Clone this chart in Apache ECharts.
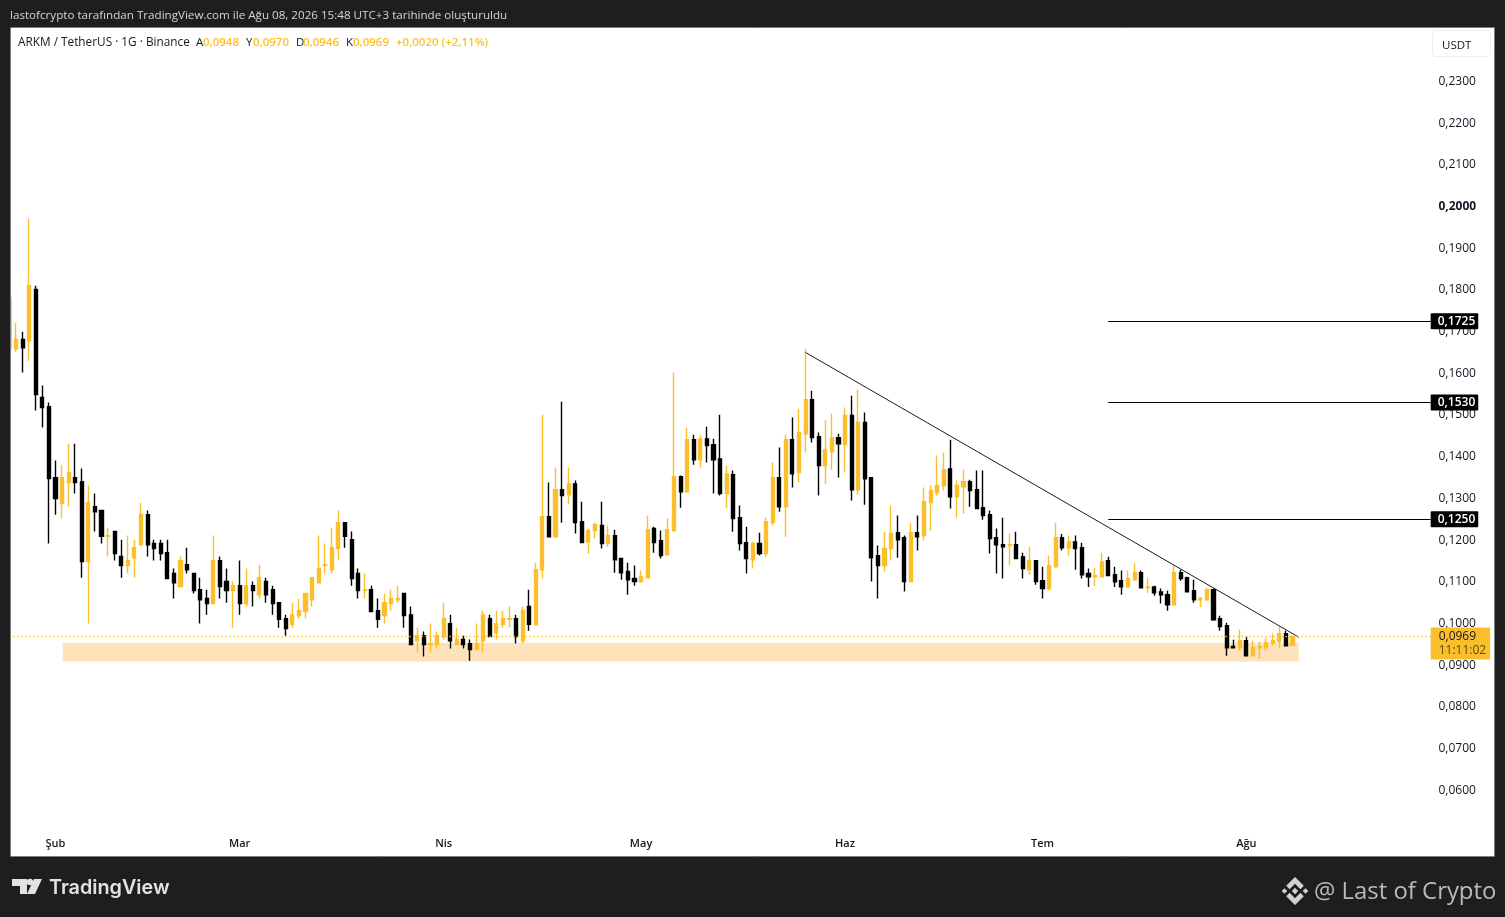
<!DOCTYPE html>
<html><head><meta charset="utf-8">
<style>html,body{margin:0;padding:0;background:#1e1e1e}#c{width:1505px;height:917px}</style>
<script src="https://cdn.jsdelivr.net/npm/echarts@6/dist/echarts.min.js"></script>
</head><body><div id="c"></div>
<script>
// Daily candles, rows are [open, close, low, high]
const candlesJan = [[.1782,.1659,.1659,.1782],[.1659,.1681,.1652,.1722],[.1681,.1661,.1602,.1700],[.1678,.1810,.1630,.1971],[.1801,.1549,.1511,.1810],[.1542,.1518,.1470,.1571],[.1520,.1348,.1192,.1530]];
const candlesFeb = [[.1350,.1300,.1261,.1391],[.1288,.1350,.1252,.1381],[.1338,.1362,.1280,.1431],[.1350,.1338,.1312,.1431],[.1340,.1149,.1110,.1372],[.1149,.1290,.1000,.1331],[.1280,.1268,.1221,.1312],[.1271,.1209,.1192,.1271],[.1209,.1211,.1161,.1230],[.1221,.1168,.1151,.1221],[.1161,.1139,.1110,.1201],[.1139,.1151,.1120,.1211],[.1158,.1182,.1110,.1201],[.1189,.1261,.1189,.1290],[.1261,.1189,.1161,.1271],[.1192,.1180,.1151,.1201],[.1192,.1168,.1151,.1201],[.1170,.1108,.1108,.1201],[.1120,.1098,.1060,.1132],[.1089,.1151,.1089,.1161],[.1141,.1129,.1120,.1182],[.1120,.1079,.1072,.1120],[.1081,.1057,.1000,.1110],[.1060,.1048,.1021,.1081],[.1048,.1151,.1048,.1211],[.1151,.1089,.1060,.1161],[.1101,.1079,.1050,.1132],[.1079,.1091,.0990,.1101]];
const candlesMar = [[.1091,.1048,.1021,.1151],[.1048,.1091,.1041,.1132],[.1091,.1079,.1041,.1101],[.1069,.1110,.1060,.1141],[.1101,.1069,.1050,.1110],[.1081,.1048,.1021,.1091],[.1050,.1010,.0990,.1050],[.1012,.0988,.0971,.1021],[.0998,.1021,.0990,.1050],[.1019,.1031,.1012,.1060],[.1029,.1072,.1012,.1072],[.1057,.1110,.1041,.1110],[.1098,.1132,.1098,.1211],[.1140,.1141,.1120,.1192],[.1129,.1182,.1120,.1230],[.1180,.1242,.1151,.1271],[.1242,.1209,.1182,.1242],[.1201,.1108,.1091,.1221],[.1120,.1079,.1060,.1132],[.1079,.1081,.1060,.1120],[.1081,.1029,.1029,.1091],[.1031,.1010,.0990,.1060],[.1019,.1050,.1000,.1072],[.1048,.1060,.1031,.1081],[.1057,.1060,.1050,.1091],[.1072,.1019,.0990,.1072],[.1021,.0950,.0950,.1041],[.0959,.0971,.0930,.0990],[.0971,.0950,.0921,.0981],[.0950,.0952,.0930,.1000],[.0950,.0971,.0940,.0981]];
const candlesApr = [[.0969,.1012,.0962,.1050],[.1000,.0959,.0940,.1021],[.0950,.0962,.0950,.0990],[.0962,.0950,.0940,.0971],[.0952,.0938,.0911,.0962],[.0938,.0952,.0938,.1000],[.0959,.1021,.0930,.1031],[.1012,.0969,.0969,.1021],[.0978,.1000,.0962,.1031],[.0998,.1012,.0990,.1031],[.1010,.1012,.0990,.1041],[.1012,.0969,.0952,.1021],[.0959,.1031,.0952,.1041],[.1041,.0998,.0983,.1081],[.0997,.1129,.0997,.1146],[.1129,.1256,.1108,.1501],[.1256,.1208,.1208,.1338],[.1208,.1321,.1206,.1374],[.1321,.1307,.1242,.1532],[.1309,.1335,.1287,.1374],[.1335,.1242,.1216,.1343],[.1244,.1194,.1194,.1292],[.1196,.1223,.1168,.1228],[.1223,.1237,.1204,.1242],[.1235,.1192,.1180,.1292],[.1192,.1211,.1184,.1235],[.1211,.1153,.1122,.1225],[.1156,.1122,.1105,.1156],[.1125,.1105,.1069,.1146],[.1108,.1101,.1091,.1139]];
const candlesMay = [[.1101,.1113,.1098,.1127],[.1110,.1225,.1110,.1259],[.1228,.1194,.1170,.1232],[.1199,.1163,.1156,.1223],[.1165,.1225,.1165,.1252],[.1223,.1352,.1220,.1602],[.1352,.1316,.1278,.1355],[.1316,.1441,.1314,.1470],[.1441,.1393,.1381,.1453],[.1393,.1443,.1374,.1453],[.1443,.1427,.1386,.1472],[.1429,.1393,.1312,.1443],[.1395,.1312,.1307,.1501],[.1312,.1359,.1278,.1379],[.1357,.1252,.1220,.1367],[.1254,.1192,.1175,.1283],[.1194,.1156,.1120,.1232],[.1153,.1192,.1132,.1196],[.1192,.1168,.1163,.1218],[.1168,.1244,.1160,.1254],[.1242,.1350,.1235,.1386],[.1350,.1280,.1268,.1422],[.1280,.1441,.1208,.1453],[.1441,.1359,.1326,.1494],[.1362,.1458,.1338,.1515],[.1455,.1537,.1410,.1659],[.1537,.1446,.1434,.1558],[.1448,.1379,.1307,.1458],[.1379,.1417,.1335,.1489],[.1412,.1446,.1369,.1503],[.1446,.1431,.1350,.1455]];
const candlesJun = [[.1429,.1499,.1362,.1518],[.1499,.1321,.1295,.1546],[.1321,.1482,.1309,.1561],[.1482,.1347,.1285,.1506],[.1350,.1158,.1101,.1350],[.1163,.1139,.1060,.1187],[.1139,.1180,.1125,.1220],[.1180,.1216,.1151,.1283],[.1218,.1201,.1158,.1259],[.1206,.1101,.1077,.1211],[.1101,.1218,.1101,.1242],[.1218,.1208,.1175,.1259],[.1211,.1292,.1199,.1326],[.1290,.1319,.1223,.1331],[.1314,.1331,.1307,.1403],[.1331,.1369,.1319,.1410],[.1371,.1304,.1276,.1441],[.1304,.1331,.1254,.1343],[.1328,.1340,.1264,.1369],[.1340,.1319,.1280,.1345],[.1321,.1276,.1276,.1367],[.1278,.1259,.1249,.1367],[.1261,.1204,.1168,.1271],[.1206,.1189,.1120,.1228],[.1189,.1184,.1108,.1254],[.1187,.1189,.1139,.1216],[.1189,.1156,.1156,.1220],[.1160,.1132,.1108,.1170],[.1129,.1151,.1117,.1184],[.1151,.1101,.1093,.1151]];
const candlesJul = [[.1103,.1084,.1060,.1136],[.1084,.1139,.1079,.1163],[.1136,.1206,.1136,.1242],[.1206,.1182,.1175,.1215],[.1182,.1196,.1163,.1211],[.1196,.1180,.1129,.1211],[.1182,.1117,.1108,.1194],[.1120,.1112,.1088,.1132],[.1112,.1115,.1091,.1134],[.1112,.1148,.1112,.1170],[.1151,.1115,.1115,.1160],[.1117,.1100,.1088,.1136],[.1103,.1088,.1069,.1127],[.1088,.1108,.1086,.1127],[.1105,.1122,.1103,.1146],[.1122,.1086,.1086,.1127],[.1086,.1088,.1074,.1110],[.1088,.1074,.1067,.1091],[.1076,.1069,.1048,.1084],[.1069,.1045,.1031,.1079],[.1045,.1122,.1043,.1139],[.1122,.1108,.1103,.1129],[.1110,.1076,.1076,.1112],[.1079,.1057,.1050,.1105],[.1057,.1060,.1040,.1064],[.1057,.1081,.1057,.1086],[.1081,.1009,.1007,.1084],[.1012,.0993,.0983,.1019],[.0995,.0942,.0923,.1002],[.0945,.0942,.0940,.0961],[.0942,.0959,.0935,.0985]];
const candlesAug = [[.0959,.0923,.0923,.0969],[.0923,.0942,.0923,.0959],[.0942,.0945,.0916,.0957],[.0942,.0954,.0933,.0966],[.0952,.0959,.0947,.0976],[.0957,.0976,.0940,.0993],[.0976,.0947,.0945,.0983],[.0948,.0969,.0946,.0970]];

const firstDay = '2026-01-25';
const totalDays = 217;           // candles plus the empty space to the right
const monthTicks = {'2026-02-01':'Şub','2026-03-01':'Mar','2026-04-01':'Nis','2026-05-01':'May','2026-06-01':'Haz','2026-07-01':'Tem','2026-08-01':'Ağu'};
const priceLevels = [0.1725, 0.1530, 0.1250];
const levelStart = '2026-07-11';
const lastPrice = 0.0969;
const countdown = '11:11:02';
const trendFrom = ['2026-05-26', 0.1650];
const trendTo = ['2026-08-09', 0.0967];
const zoneDays = [8.6, 196.45];  // days since firstDay
const zonePrices = [0.0909, 0.0954];
const headerText = 'lastofcrypto tarafından TradingView.com ile Ağu 08, 2026 15:48 UTC+3 tarihinde oluşturuldu';
const symbolText = 'ARKM / TetherUS · 1G · Binance';
const ohlcLetters = ['A','Y','D','K'];
const ohlcValues = ['0,0948','0,0970','0,0946','0,0969'];
const changeText = '+0,0020 (+2,11%)';

const UP = '#fcbf2c', DOWN = '#000000', FONT = '"Open Sans","Noto Sans",sans-serif';
const candles = [].concat(candlesJan,candlesFeb,candlesMar,candlesApr,candlesMay,candlesJun,candlesJul,candlesAug);
const categories = [];
for (let i = 0; i < totalDays; i++) {
  const d = new Date(Date.parse(firstDay + 'T00:00:00Z') + i*864e5);
  categories.push(d.toISOString().slice(0,10));
}
const lastCat = categories[totalDays-1];
const fmt = v => v.toFixed(4).replace('.',',');

const band = 6.58, gridLeft = 6.1, pxPerUnit = 4170.6;
const gridTop = 39.7, gridHeight = 0.19*pxPerUnit;

const chart = echarts.init(document.getElementById('c'), null, {renderer:'canvas'});

const txt = (x,y,text,style,z) => ({type:'text',x,y,z:z||50,silent:true,style:Object.assign({text,font:'11.5px '+FONT,textVerticalAlign:'middle',verticalAlign:'middle'},style)});
const poly = (points,fill,z) => ({type:'polygon',z:z||50,silent:true,shape:{points},style:{fill}});
const diamond = (cx,cy,r,fill) => poly([[cx,cy-r],[cx+r,cy],[cx,cy+r],[cx-r,cy]],fill);

const ohlcX = [196,246,296,346];
const graphics = [
  {type:'rect',z:-5,silent:true,shape:{x:11,y:28,width:1483,height:828},style:{fill:'#ffffff'}},
  {type:'rect',z:40,silent:true,shape:{x:0,y:0,width:10,height:917},style:{fill:'#1e1e1e'}},
  {type:'rect',z:41,silent:true,shape:{x:10.5,y:27.5,width:1484,height:829},style:{fill:'none',stroke:'#7d7d7d',lineWidth:1}},
  txt(10,16,headerText,{fill:'#d6d6d6',font:'11.63px '+FONT}),
  txt(18,43,symbolText,{fill:'#131722',font:'11.8px '+FONT}),
  txt(396,43,changeText,{fill:UP,font:'600 11.5px '+FONT}),
  {type:'rect',z:45,silent:true,shape:{x:1432.5,y:30.5,width:58,height:26,r:4},style:{fill:'#fff',stroke:'#dcdcdc',lineWidth:1,lineDash:[1,1]}},
  txt(1442,46,'USDT',{fill:'#131722',font:'11.5px '+FONT}),
  poly([[12,879],[27,879],[27,894],[20,894],[20,886],[12,886]],'#e2e2e2'),
  {type:'circle',z:50,silent:true,shape:{cx:30,cy:882,r:3.2},style:{fill:'#e2e2e2'}},
  poly([[34,879],[42,879],[35,894],[27,894]],'#e2e2e2'),
  txt(49,888,'TradingView',{fill:'#e2e2e2',font:'600 19.8px Inter,'+FONT}),
  poly([[1295,877],[1303.8,885.8],[1300.4,889.2],[1295,883.8],[1289.6,889.2],[1286.2,885.8]],'#d2d2d2'),
  poly([[1295,905],[1303.8,896.2],[1300.4,892.8],[1295,898.2],[1289.6,892.8],[1286.2,896.2]],'#d2d2d2'),
  diamond(1295,891,3.2,'#d2d2d2'), diamond(1284.5,891,2.8,'#d2d2d2'), diamond(1305.5,891,2.8,'#d2d2d2'),
  txt(1314,892,'@ Last of Crypto',{fill:'#b9b9b9',font:'23.9px '+FONT})
];
ohlcLetters.forEach((l,i)=>{
  graphics.push(txt(ohlcX[i],43,l,{fill:'#131722',font:'11.5px '+FONT}));
  graphics.push(txt(ohlcX[i]+7,43,ohlcValues[i],{fill:UP,font:'600 11.5px '+FONT}));
});

chart.setOption({
  animation:false,
  backgroundColor:'#1e1e1e',
  graphic:{elements:graphics},
  grid:{left:gridLeft,top:gridTop,width:totalDays*band,height:gridHeight,containLabel:false},
  xAxis:[
    {type:'category',data:categories,boundaryGap:true,
      axisLine:{show:false},axisTick:{show:false},splitLine:{show:false},
      axisLabel:{interval:(i,name)=>monthTicks[name]!==undefined,formatter:v=>monthTicks[v]||'',color:'#131722',fontFamily:FONT,fontSize:11,fontWeight:600,margin:6}},
    {type:'value',min:0,max:totalDays,show:false,splitLine:{show:false}}
  ],
  yAxis:{type:'value',position:'right',min:0.05,max:0.24,interval:0.01,scale:false,
    axisLine:{show:false},axisTick:{show:false},splitLine:{show:false},
    axisLabel:{showMinLabel:false,showMaxLabel:false,margin:4.5,align:'left',color:'#131722',fontFamily:FONT,fontSize:12,
      formatter:v=>{const s=fmt(v);return Math.abs(v-0.2)<1e-6?'{b|'+s+'}':s;},
      rich:{b:{fontWeight:'bold',fontSize:12,color:'#131722',fontFamily:FONT}}}},
  series:[
    {type:'line',z:1,xAxisIndex:1,data:[],silent:true,
      markArea:{silent:true,animation:false,itemStyle:{color:'#fde2bc'},data:[[{coord:[zoneDays[0],zonePrices[1]]},{coord:[zoneDays[1],zonePrices[0]]}]]}},
    {type:'candlestick',z:2,xAxisIndex:0,data:candles,barWidth:3.6,clip:true,silent:true,
      itemStyle:{color:UP,color0:DOWN,borderColor:UP,borderColor0:DOWN,borderWidth:1.4}},
    {type:'line',z:5,xAxisIndex:0,data:[],silent:true,
      markLine:{silent:true,animation:false,symbol:'none',precision:4,
        data:[
          [{coord:trendFrom,lineStyle:{color:'#1c1c1c',width:1,type:'solid'},label:{show:false}},{coord:trendTo}],
          [{coord:[categories[0],lastPrice],lineStyle:{color:UP,width:1.4,type:[1.5,2.5]},
            label:{show:true,position:'end',distance:0,offset:[0,7],formatter:'{a|'+fmt(lastPrice)+'}\n{b|'+countdown+'}',backgroundColor:UP,padding:[2,4,2,8],
              rich:{a:{color:'#131722',fontFamily:FONT,fontSize:12,lineHeight:14,fontWeight:500},b:{color:'#5b4a18',fontFamily:FONT,fontSize:12,lineHeight:14}}}},
           {coord:[lastCat,lastPrice]}]
        ].concat(priceLevels.map(p=>[
          {coord:[levelStart,p],lineStyle:{color:'#000',width:1,type:'solid'},
           label:{show:true,position:'end',distance:0,formatter:fmt(p),color:'#fff',fontFamily:FONT,fontSize:12,fontWeight:600,backgroundColor:'#000',padding:[2,3,2,7],borderRadius:1}},
          {coord:[lastCat,p]}
        ]))}}
  ]
});
</script></body></html>
